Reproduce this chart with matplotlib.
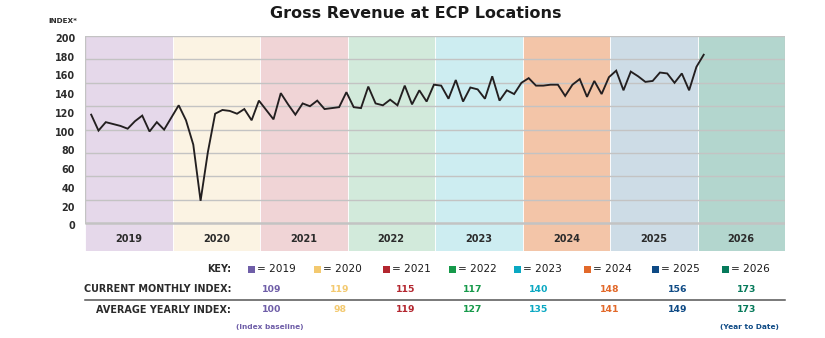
import matplotlib
matplotlib.use("Agg")
import matplotlib.pyplot as plt
import matplotlib.transforms as mtransforms
import numpy as np

plt.rcParams['font.family'] = ['DejaVu Sans']

# ---------------- data ----------------
years = ["2019", "2020", "2021", "2022", "2023", "2024", "2025", "2026"]
idx_2019 = [116, 99, 108, 106, 104, 101, 109, 115, 98, 108, 100, 113]
idx_2020 = [126, 110, 84, 24, 76, 117, 121, 120, 117, 122, 110, 131]
idx_2021 = [121, 111, 139, 127, 116, 128, 125, 131, 122, 123, 124, 140]
idx_2022 = [124, 123, 146, 128, 126, 132, 126, 147, 127, 142, 130, 148]
idx_2023 = [147, 133, 153, 130, 145, 143, 133, 157, 131, 142, 138, 150]
idx_2024 = [155, 147, 147, 148, 148, 136, 148, 154, 135, 152, 138, 156]
idx_2025 = [163, 142, 162, 157, 151, 152, 161, 160, 150, 160, 142, 167]
idx_2026 = [180]
current_monthly = ["109", "119", "115", "117", "140", "148", "156", "173"]
average_yearly = ["100", "98", "119", "127", "135", "141", "149", "173"]
y_tick_labels = [0, 20, 40, 60, 80, 100, 120, 140, 160, 180, 200]
grid_levels = [25, 50, 75, 100, 125, 150, 175, 200]

band_colors = ["#E5D8EA", "#FBF3E3", "#F0D4D6", "#D2EADB", "#CDEDF1",
               "#F3C5A8", "#CDDCE6", "#B3D6CE"]
key_colors = ["#6F5EA8", "#F3C96F", "#B3262F", "#16994A", "#0AA8C2",
              "#E2692A", "#0E4A85", "#067A5B"]

series = idx_2019 + idx_2020 + idx_2021 + idx_2022 + idx_2023 + idx_2024 + idx_2025 + idx_2026

# ---------------- figure ----------------
W, H = 825, 338
fig = plt.figure(figsize=(W / 100, H / 100), dpi=100)

def fx(px):
    return px / W

def fy(py):
    return 1 - py / H

ax = fig.add_axes([fx(85), fy(251), fx(700), (251 - 36) / H])
ymin = -29.6
ax.set_xlim(0, 96)
ax.set_ylim(ymin, 200)
ax.axis("off")

# year bands
for i, c in enumerate(band_colors):
    ax.add_patch(plt.Rectangle((i * 12, ymin), 12, 200 - ymin, facecolor=c,
                               edgecolor="white", linewidth=0.6, zorder=0))
    ax.text(i * 12 + 6, -16.5, years[i], ha="center", va="center",
            fontsize=7, fontweight="bold", color="#2B2B2B", zorder=3)

# grid lines and frame
for g in grid_levels:
    ax.plot([0, 96], [g, g], color="#C3C3C3", lw=1.0, zorder=1,
            solid_capstyle="butt")
ax.plot([0, 96], [0, 0], color="#C3C3C3", lw=1.8, zorder=1,
        solid_capstyle="butt")
ax.plot([0, 0], [0, 200], color="#C3C3C3", lw=1.0, zorder=1)
ax.plot([96, 96], [0, 200], color="#C3C3C3", lw=1.0, zorder=1)

# line
xs = np.arange(len(series)) + 0.85
ax.plot(xs, series, color="#231F20", lw=1.35, zorder=4,
        solid_joinstyle="miter")

# y tick labels (slightly below their gridline level as in the reference)
lab_tr = mtransforms.offset_copy(ax.transData, fig=fig, x=-10, y=-3,
                                 units="dots")
for v in y_tick_labels:
    ax.text(0, v, str(v), transform=lab_tr, ha="right", va="center",
            fontsize=6.9, fontweight="bold", color="#2B2B2B",
            clip_on=False)

fig.text(fx(48), fy(21), "INDEX*", ha="left", va="center", fontsize=5.2,
         fontweight="bold", color="#2B2B2B")

# title
fig.text(fx(416), fy(14), "Gross Revenue at ECP Locations", ha="center",
         va="center", fontsize=11.5, fontweight="bold", color="#1A1A1A")

# ---------------- key table ----------------
label_x = 231
fig.text(fx(label_x), fy(269), "KEY:", ha="right", va="center",
         fontsize=6.9, fontweight="bold", color="#2B2B2B")
fig.text(fx(label_x), fy(289), "CURRENT MONTHLY INDEX:", ha="right",
         va="center", fontsize=6.9, fontweight="bold", color="#2B2B2B")
fig.text(fx(label_x), fy(310), "AVERAGE YEARLY INDEX:", ha="right",
         va="center", fontsize=6.9, fontweight="bold", color="#2B2B2B")

key_sq_x = [248, 314, 383, 449, 514, 584, 652, 722]
col_cx = [272, 340, 406, 473, 539, 610, 678, 747]
for i in range(len(years)):
    fig.patches.append(plt.Rectangle((fx(key_sq_x[i]), fy(273)), 6.5 / W,
                                     7 / H, transform=fig.transFigure,
                                     facecolor=key_colors[i], edgecolor="none"))
    fig.text(fx(key_sq_x[i] + 9), fy(269), "= " + years[i], ha="left",
             va="center", fontsize=7.6, color="#1A1A1A")
    fig.text(fx(col_cx[i]), fy(289), current_monthly[i], ha="center",
             va="center", fontsize=6.7, fontweight="bold", color=key_colors[i])
    fig.text(fx(col_cx[i]), fy(310), average_yearly[i], ha="center",
             va="center", fontsize=6.7, fontweight="bold", color=key_colors[i])

fig.add_artist(plt.Line2D([fx(85), fx(785)], [fy(300), fy(300)],
                          color="#555555", lw=1.1))
fig.text(fx(270), fy(327), "(Index baseline)", ha="center", va="center",
         fontsize=5.3, fontweight="bold", color=key_colors[0])
fig.text(fx(749), fy(327), "(Year to Date)", ha="center", va="center",
         fontsize=5.3, fontweight="bold", color=key_colors[6])

fig.savefig("out.png", dpi=100)
